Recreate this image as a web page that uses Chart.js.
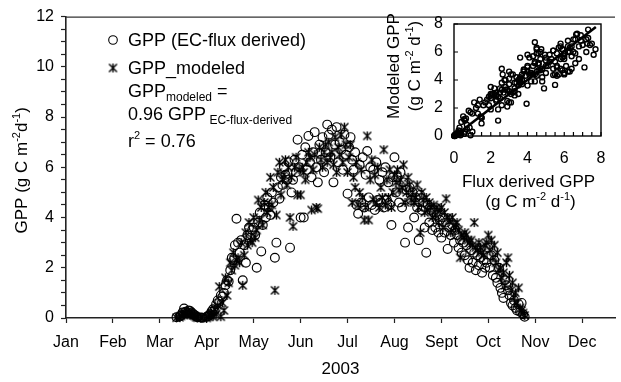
<!DOCTYPE html>
<html><head><meta charset="utf-8">
<script src="https://cdn.jsdelivr.net/npm/chart.js@4/dist/chart.umd.min.js"></script>
<style>
html,body{margin:0;padding:0;background:#fff;overflow:hidden}
#wrap{position:relative;width:621px;height:382px}
#main{position:absolute;left:0;top:0}
#inset{position:absolute;left:370px;top:0}
</style></head><body>
<div id="wrap"><canvas id="main" width="621" height="382"></canvas><canvas id="inset" width="251" height="215"></canvas></div>
<script>
const FONT = "'Liberation Sans', Arial, sans-serif";
const monthLabels = ['Jan','Feb','Mar','Apr','May','Jun','Jul','Aug','Sept','Oct','Nov','Dec'];
const daysInMonth = [31,28,31,30,31,30,31,31,30,31,30,31];

// Daily GPP (g C m-2 d-1), index 0 = 1st of month; null = no value
const obsMar = [null,null,null,null,null,null,null,null,null,null,null,
  0.03,null,0.06,0.10,0.22,0.38,0.25,0.20,0.30,0.28,0.22,0.15,0.12,0.06,0.03,null,0.02,0.01,null,null];
const modMar = [null,null,null,null,null,null,null,null,null,null,null,
  0.01,null,0.03,0.08,0.15,0.20,0.18,0.12,0.22,0.20,0.16,0.10,0.08,0.03,0.01,null,0.00,0.02,null,null];
const obsApr = [0.05,0.08,0.15,0.25,0.35,0.30,0.55,0.70,0.65,0.90,0.85,1.00,1.30,1.50,1.45,
  1.90,2.40,2.30,2.90,3.95,3.00,2.60,3.10,1.50,2.90,2.20,3.30,3.60,3.20,3.50];
const modApr = [0.00,0.05,0.10,0.20,0.05,0.35,0.15,0.50,1.25,0.05,0.60,0.30,1.60,0.90,1.40,
  2.20,1.90,2.60,2.10,2.30,2.40,2.20,3.00,1.30,2.50,3.40,2.90,3.80,3.10,3.00];
const obsMay = [3.6,3.3,2.0,3.8,4.2,2.65,3.7,4.5,4.0,4.8,4.4,4.1,5.0,4.6,2.4,3.0,
  5.2,4.75,5.6,5.3,6.0,5.7,5.5,6.2,2.8,5.0,5.5,6.3,5.8,7.1,6.0];
const modMay = [4.0,3.2,3.5,4.7,3.9,4.4,3.7,4.6,5.0,4.2,4.4,5.6,4.5,5.2,1.1,4.1,
  5.8,6.2,4.9,5.5,5.7,6.3,5.3,6.0,4.0,5.6,3.65,6.0,6.4,4.9,5.9];
const obsJun = [4.0,6.5,4.0,6.8,5.9,7.25,6.2,5.6,6.6,7.4,6.0,5.4,6.9,6.3,7.2,
  5.8,6.6,7.7,7.3,6.4,7.5,5.4,6.9,7.6,6.2,7.0,6.7,5.9,7.3,6.5];
const modJun = [4.9,6.0,5.8,5.5,6.2,6.6,6.4,4.3,5.9,6.5,4.4,4.35,6.8,6.3,6.0,
  6.6,6.9,6.2,7.0,6.4,6.6,6.1,7.2,5.8,6.8,6.5,7.3,6.2,7.6,6.9];
const obsJul = [4.95,6.8,7.2,6.3,5.9,6.6,4.5,4.15,6.1,4.6,6.4,4.4,5.7,6.65,4.8,6.0,
  4.5,5.9,4.3,6.2,4.7,5.5,4.6,5.8,4.4,6.0,4.7,5.4,4.5,3.7,5.6];
const modJul = [5.8,6.4,6.9,4.6,5.6,5.2,6.2,4.5,5.0,5.9,4.8,3.9,4.4,7.25,3.9,5.5,
  6.3,4.7,5.7,4.6,6.0,4.4,5.2,4.8,6.7,4.5,5.5,4.8,5.9,4.4,5.0];
const obsAug = [6.4,5.0,5.6,4.6,5.8,4.4,5.4,3.0,5.1,3.6,5.2,4.7,5.0,4.0,4.8,4.4,
  3.1,4.9,4.3,4.6,3.6,2.6,4.5,3.8,4.3,3.5,4.2,3.6,4.1,3.4,3.9];
const modAug = [5.7,5.4,5.9,5.1,5.5,5.2,6.1,4.6,5.0,5.6,5.3,4.7,5.0,4.6,4.8,5.3,
  4.4,3.4,5.0,4.7,4.2,4.8,4.3,4.6,4.4,4.0,4.5,4.1,4.4,3.8,4.3];
const obsSep = [3.2,4.0,3.4,3.8,2.75,3.6,3.3,3.7,3.0,3.5,3.3,2.8,3.1,2.6,3.0,
  2.5,2.9,2.3,2.0,2.7,2.2,2.6,1.9,2.5,2.1,2.4,1.8,2.3,2.0,2.2];
const modSep = [4.4,3.6,4.2,4.75,4.0,3.9,3.4,4.0,3.7,3.6,3.8,3.5,2.4,3.3,3.2,
  3.4,3.3,3.1,3.0,3.1,2.9,3.8,2.8,2.7,3.0,2.8,2.6,2.5,2.9,3.0];
const obsOct = [2.8,2.0,2.5,1.7,2.3,1.6,1.4,2.0,1.2,1.0,0.8,1.5,1.3,1.1,0.9,
  0.6,0.5,0.7,0.4,0.3,0.55,0.25,0.6,0.15,0.05];
const modOct = [3.3,2.7,3.1,2.4,2.9,2.2,2.6,1.9,2.0,1.6,1.8,1.3,2.2,2.4,1.7,
  1.1,1.4,0.8,1.0,0.6,1.2,0.4,0.3,0.2,0.1];

// Inset regression line end points (flux-derived GPP, modeled GPP)
const fitX = [0.05, 7.72];
const fitY = [0.0, 7.78];
const insetTicks = [0,2,4,6,8];

const obsByMonth = [null,null,obsMar,obsApr,obsMay,obsJun,obsJul,obsAug,obsSep,obsOct];
const modByMonth = [null,null,modMar,modApr,modMay,modJun,modJul,modAug,modSep,modOct];

function toPoints(byMonth){
  const pts=[];
  byMonth.forEach((arr,m)=>{ if(!arr) return;
    arr.forEach((v,i)=>{ if(v!==null) pts.push({x:m+i/daysInMonth[m], y:v}); }); });
  return pts;
}
const obsPts = toPoints(obsByMonth);
const modPts = toPoints(modByMonth);
const pairs = [];
obsByMonth.forEach((arr,m)=>{ if(!arr) return;
  arr.forEach((v,i)=>{ const w = modByMonth[m][i]; if(v!==null && w!==null && w!==undefined) pairs.push({x:v,y:w}); }); });
const fitPts = fitX.map((x,i)=>({x, y:fitY[i]}));

// asterisk marker
const asterisk = (()=>{ const c=document.createElement('canvas'); c.width=11; c.height=11;
  const g=c.getContext('2d'); g.strokeStyle='#000'; g.lineWidth=1.4; g.lineCap='butt';
  g.beginPath(); g.moveTo(1.5,1.5); g.lineTo(9.5,9.5); g.moveTo(9.5,1.5); g.lineTo(1.5,9.5);
  g.moveTo(5.5,1); g.lineTo(5.5,10); g.stroke(); return c; })();

function drawRich(ctx, parts, x, y, o){
  const set = p => { ctx.font = ((p.sup||p.sub)? o.small : o.size) + 'px ' + FONT; };
  const widths = parts.map(p=>{ set(p); return ctx.measureText(p.t).width; });
  const total = widths.reduce((a,b)=>a+b,0);
  ctx.save(); ctx.translate(x,y); if(o.rotate) ctx.rotate(o.rotate);
  ctx.fillStyle='#000'; ctx.textAlign='left'; ctx.textBaseline='alphabetic';
  let cx = o.align==='center' ? -total/2 : 0;
  parts.forEach((p,i)=>{ set(p); const dy = p.sup ? -o.size*0.42 : (p.sub ? o.size*0.2 : 0);
    ctx.fillText(p.t, cx, dy); cx += widths[i]; });
  ctx.restore();
}

const mainDecor = {
  id:'mainDecor',
  afterDraw(chart){
    const ctx=chart.ctx, a=chart.chartArea;
    ctx.save();
    ctx.strokeStyle='#333'; ctx.lineWidth=1.2;
    ctx.beginPath(); ctx.moveTo(a.left, a.top+0.5); ctx.lineTo(a.right, a.top+0.5); ctx.stroke();
    // legend markers
    ctx.strokeStyle='#000'; ctx.lineWidth=1.1;
    ctx.beginPath(); ctx.arc(113,40,4.3,0,Math.PI*2); ctx.stroke();
    ctx.drawImage(asterisk, 113-5.5, 68-5.5);
    ctx.restore();
    const L={size:18, small:12};
    drawRich(ctx,[{t:'GPP (EC-flux derived)'}],128,46,L);
    drawRich(ctx,[{t:'GPP_modeled'}],128,74,L);
    drawRich(ctx,[{t:'GPP'},{t:'modeled',sub:true},{t:' ='}],128,97,L);
    drawRich(ctx,[{t:'0.96 GPP'},{t:' EC-flux-derived',sub:true}],128,120,L);
    drawRich(ctx,[{t:'r'},{t:'2',sup:true},{t:' = 0.76'}],128,147,{size:18,small:11});
    drawRich(ctx,[{t:'GPP (g C m'},{t:'-2',sup:true},{t:'d'},{t:'-1',sup:true},{t:')'}],
      27,(a.top+a.bottom)/2+3,{size:17,small:11,align:'center',rotate:-Math.PI/2});
  }
};

new Chart(document.getElementById('main'),{
  type:'scatter',
  data:{datasets:[
    {label:'GPP (EC-flux derived)', data:obsPts, pointStyle:'circle', pointRadius:4.4,
     borderColor:'#000', borderWidth:1.15, backgroundColor:'rgba(0,0,0,0)', clip:false},
    {label:'GPP_modeled', data:modPts, pointStyle:asterisk, pointRadius:5,
     borderColor:'#000', backgroundColor:'#000', clip:false}
  ]},
  options:{
    responsive:false, animation:false, events:[],
    layout:{padding:{top:15,right:0,left:0,bottom:0}},
    plugins:{legend:{display:false}, tooltip:{enabled:false}},
    scales:{
      x:{type:'linear', min:0, max:11.7,
        afterBuildTicks:s=>{ s.ticks = monthLabels.map((_,i)=>({value:i})); },
        afterFit:s=>{ s.height=64; },
        ticks:{callback:v=>monthLabels[v], font:{family:FONT,size:16}, color:'#000', padding:10, maxRotation:0, autoSkip:false},
        grid:{drawOnChartArea:false, tickLength:5, tickColor:'#222', tickWidth:1.2},
        border:{color:'#222', width:1.6},
        title:{display:true, text:'2003', font:{family:FONT,size:17}, color:'#000', padding:{top:0,bottom:2}}
      },
      y:{min:0, max:12,
        afterFit:s=>{ s.width=66; },
        ticks:{stepSize:0.5, autoSkip:false, callback:v=>(v%2===0? String(v):''), font:{family:FONT,size:16}, color:'#000', padding:7},
        grid:{drawOnChartArea:false, tickLength:5, tickColor:'#222', tickWidth:1.2},
        border:{color:'#222', width:1.6}
      }
    }
  },
  plugins:[mainDecor]
});

const insetDecor = {
  id:'insetDecor',
  afterDraw(chart){
    const ctx=chart.ctx, a=chart.chartArea, xs=chart.scales.x, ys=chart.scales.y;
    ctx.save();
    ctx.strokeStyle='#000'; ctx.lineWidth=1.4;
    ctx.strokeRect(a.left, a.top, a.right-a.left, a.bottom-a.top);
    ctx.lineWidth=1.2; ctx.beginPath();
    xs.ticks.forEach(t=>{ const px=xs.getPixelForValue(t.value); ctx.moveTo(px,a.bottom); ctx.lineTo(px,a.bottom-4); });
    insetTicks.forEach(v=>{ const py=ys.getPixelForValue(v); ctx.moveTo(a.left,py); ctx.lineTo(a.left+4,py); });
    ctx.stroke();
    ctx.restore();
    const T={size:17, small:11, align:'center'};
    drawRich(ctx,[{t:'Modeled GPP'}],29,66,{...T,rotate:-Math.PI/2});
    drawRich(ctx,[{t:'(g C m'},{t:'-2',sup:true},{t:' d'},{t:'-1',sup:true},{t:')'}],50,66,{...T,rotate:-Math.PI/2});
    drawRich(ctx,[{t:'Flux derived GPP'}],(a.left+a.right)/2+1,187,T);
    drawRich(ctx,[{t:'(g C m'},{t:'-2',sup:true},{t:' d'},{t:'-1',sup:true},{t:')'}],(a.left+a.right)/2+3,207,T);
  }
};

new Chart(document.getElementById('inset'),{
  type:'scatter',
  data:{datasets:[
    {type:'line', data:fitPts, borderColor:'#000', borderWidth:2.6, pointRadius:0, showLine:true, fill:false},
    {data:pairs, pointStyle:'circle', pointRadius:2.5, borderColor:'#000', borderWidth:1.4, backgroundColor:'rgba(0,0,0,0)', clip:false}
  ]},
  options:{
    responsive:false, animation:false, events:[],
    layout:{padding:{top:24,right:20,left:0,bottom:0}},
    plugins:{legend:{display:false}, tooltip:{enabled:false}},
    scales:{
      x:{type:'linear', min:0, max:8,
        afterFit:s=>{ s.height=79; },
        ticks:{stepSize:0.5, autoSkip:false, maxRotation:0, callback:v=>(v%2===0? String(v):''), font:{family:FONT,size:16}, color:'#000', padding:13},
        grid:{display:false, drawTicks:false}, border:{display:false}
      },
      y:{min:0, max:8,
        afterFit:s=>{ s.width=84; },
        ticks:{stepSize:2, font:{family:FONT,size:16}, color:'#000', padding:11},
        grid:{display:false, drawTicks:false}, border:{display:false}
      }
    }
  },
  plugins:[insetDecor]
});
</script>
</body></html>
